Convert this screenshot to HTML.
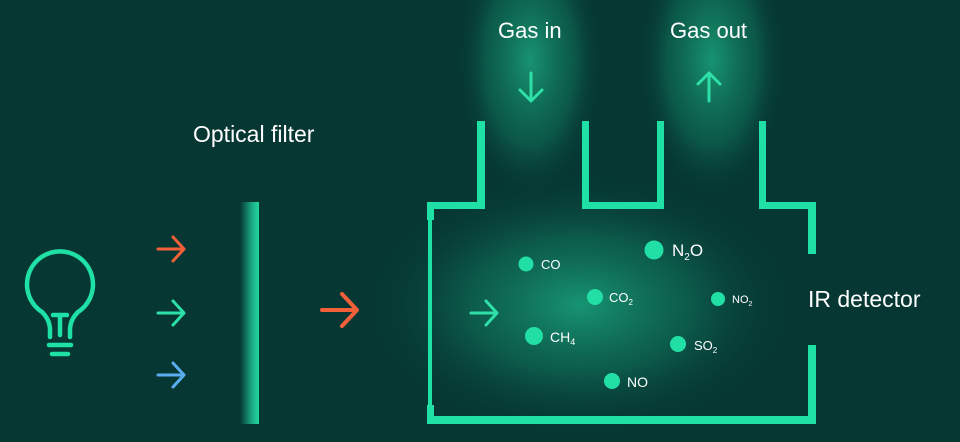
<!DOCTYPE html>
<html><head><meta charset="utf-8"><style>
html,body{margin:0;padding:0;background:#063733;}
svg{display:block;}
text{font-family:"Liberation Sans",sans-serif;fill:#fff;}
</style></head><body>
<svg width="960" height="442" viewBox="0 0 960 442" xmlns="http://www.w3.org/2000/svg">
<defs>
<radialGradient id="g1" cx="0.5" cy="0.5" r="0.5">
<stop offset="0" stop-color="#1aa57d" stop-opacity="0.85"/>
<stop offset="0.5" stop-color="#11785e" stop-opacity="0.55"/>
<stop offset="1" stop-color="#063733" stop-opacity="0"/>
</radialGradient>
<radialGradient id="g2" cx="0.5" cy="0.5" r="0.5">
<stop offset="0" stop-color="#1a9e78" stop-opacity="0.9"/>
<stop offset="0.6" stop-color="#128063" stop-opacity="0.45"/>
<stop offset="1" stop-color="#063733" stop-opacity="0"/>
</radialGradient>
<linearGradient id="flt" x1="0" x2="1">
<stop offset="0" stop-color="#063733"/>
<stop offset="0.6" stop-color="#1aa57f"/>
<stop offset="1" stop-color="#22d9a0"/>
</linearGradient>
</defs>
<rect width="960" height="442" fill="#063733"/>
<ellipse cx="580" cy="305" rx="220" ry="135" fill="url(#g1)"/>
<ellipse cx="530" cy="60" rx="75" ry="140" fill="url(#g2)"/>
<ellipse cx="712" cy="60" rx="75" ry="140" fill="url(#g2)"/>

<text x="193" y="142" font-size="23">Optical filter</text>
<text x="498" y="38" font-size="22">Gas in</text>
<text x="670" y="38" font-size="22">Gas out</text>
<text x="808" y="307" font-size="23">IR detector</text>

<rect x="240" y="202" width="19" height="222" fill="url(#flt)"/>

<g fill="none" stroke="#1fe0a5" stroke-width="4.5" stroke-linecap="round">
<path d="M50,337 L50,330 Q50,320 42,312 A33,33 0 1 1 78,312 Q70,320 70,330 L70,337"/>
<path d="M53,315 L67,315 M60,315 L60,335"/>
<path d="M49,345 L71,345 M52,354 L68,354"/>
</g>

<g fill="none" stroke-width="3" stroke-linecap="round" stroke-linejoin="round">
<path d="M158,249 L184,249 M173,237 L184,249 L173,261" stroke="#f2603a"/>
<path d="M158,313 L184,313 M173,301 L184,313 L173,325" stroke="#2ee0a8"/>
<path d="M158,375 L184,375 M173,363 L184,375 L173,387" stroke="#5aaef0"/>
<path d="M322,310 L357,310 M342,294 L357,310 L342,326" stroke="#f2603a" stroke-width="4"/>
<path d="M471,313 L497,313 M486,301 L497,313 L486,325" stroke="#2ee0a8"/>
<path d="M531,73 L531,101 M520,90 L531,101 L542,90" stroke="#2ee0a8"/>
<path d="M709,101 L709,73 M698,84 L709,73 L720,84" stroke="#2ee0a8"/>
</g>

<g fill="#1fe0a5">
<rect x="477" y="121" width="8" height="88"/>
<rect x="427" y="202" width="58" height="7"/>
<rect x="427" y="202" width="7" height="18"/>
<rect x="428" y="218" width="4" height="190"/>
<rect x="427" y="405" width="7" height="19"/>
<rect x="427" y="416" width="389" height="8"/>
<rect x="582" y="121" width="7" height="88"/>
<rect x="657" y="121" width="7" height="88"/>
<rect x="582" y="202" width="82" height="7"/>
<rect x="759" y="121" width="7" height="88"/>
<rect x="759" y="202" width="57" height="7"/>
<rect x="808" y="202" width="8" height="52"/>
<rect x="808" y="345" width="8" height="79"/>
</g>

<g fill="#22dfa6">
<circle cx="526" cy="264" r="7.5"/>
<circle cx="654" cy="250" r="9.5"/>
<circle cx="595" cy="297" r="8"/>
<circle cx="718" cy="299" r="7"/>
<circle cx="534" cy="336" r="9"/>
<circle cx="678" cy="344" r="8"/>
<circle cx="612" cy="381" r="8"/>
</g>
<text x="541" y="269" font-size="13">CO</text>
<text x="672" y="256" font-size="17">N<tspan font-size="10" dy="4">2</tspan><tspan dy="-4">O</tspan></text>
<text x="609" y="302" font-size="13">CO<tspan font-size="8" dy="3">2</tspan></text>
<text x="732" y="303" font-size="11">NO<tspan font-size="7" dy="3">2</tspan></text>
<text x="550" y="342" font-size="14">CH<tspan font-size="9" dy="3">4</tspan></text>
<text x="694" y="350" font-size="13">SO<tspan font-size="8" dy="3">2</tspan></text>
<text x="627" y="387" font-size="14">NO</text>
</svg>
</body></html>
